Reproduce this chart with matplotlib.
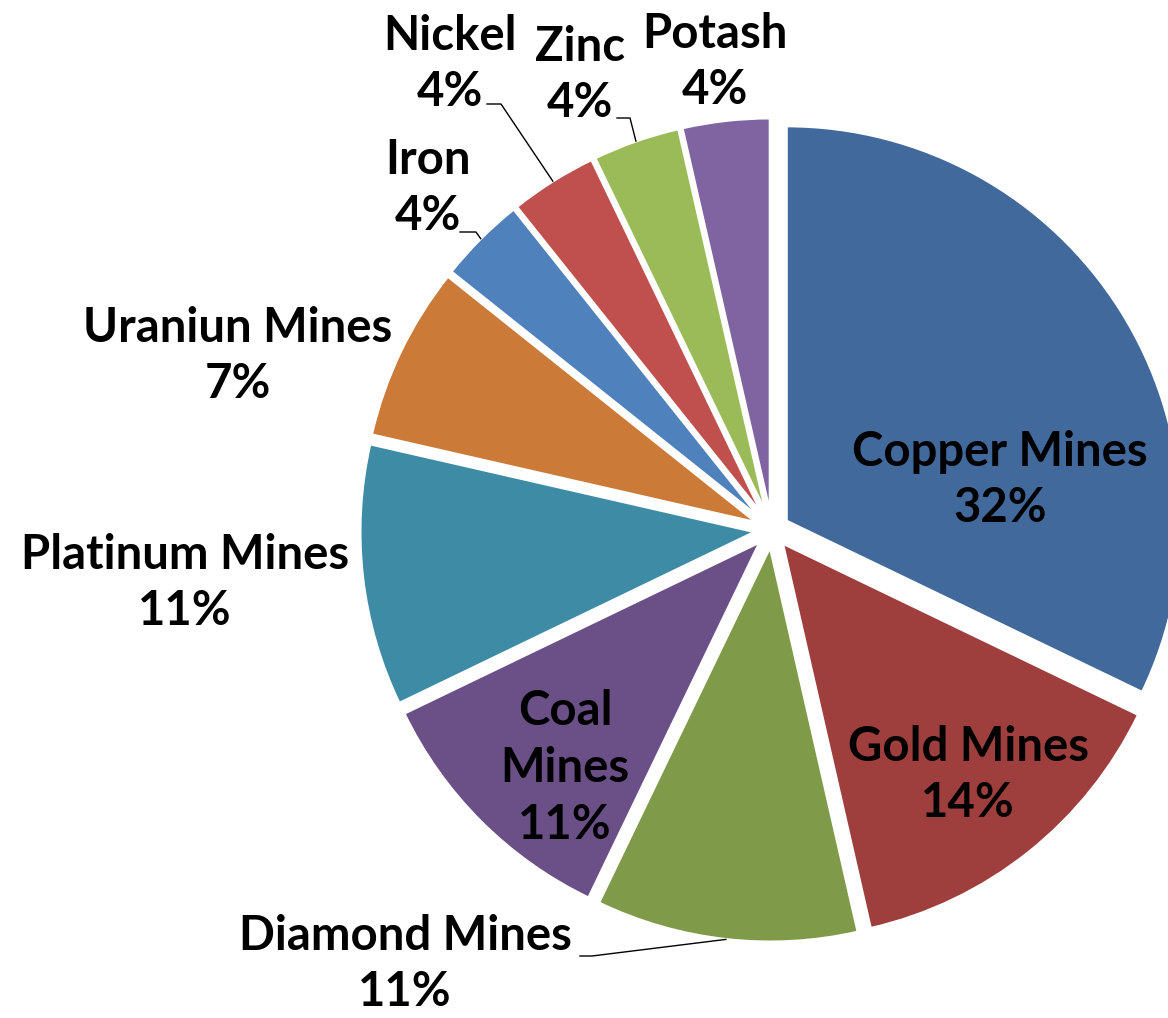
import math
import matplotlib.pyplot as plt

# slices, clockwise from 12 o'clock
labels = ['Copper Mines', 'Gold Mines', 'Diamond Mines', 'Coal Mines', 'Platinum Mines',
          'Uraniun Mines', 'Iron', 'Nickel', 'Zinc', 'Potash']
values = [9, 4, 3, 3, 3, 2, 1, 1, 1, 1]
colors = ['#41699B', '#9E3F3D', '#7F9A48', '#6A5086', '#3D8BA5',
          '#CB7A38', '#4F81BD', '#C0504D', '#9BBB59', '#8064A2']

W, H = 1168, 1018
cx, cy = 772, H - 530
R = 395
EXPL = 17

# label centres (image pixels, y down) and leader elbows
label_pos = {
    'Copper Mines': (1000, 480),
    'Gold Mines': (968, 775),
    'Diamond Mines': (405, 964),
    'Coal Mines': (565, 768),
    'Platinum Mines': (185, 583),
    'Uraniun Mines': (238, 356),
    'Iron': (428, 188),
    'Nickel': (450, 64),
    'Zinc': (580, 75),
    'Potash': (715, 62),
}
leaders = {
    'Iron': [(460, 232), (476, 232)],
    'Nickel': [(487, 104), (501, 104)],
    'Zinc': [(617, 118), (630, 118)],
    'Diamond Mines': [(580, 956), (592, 956)],
}

plt.rcParams['font.family'] = ['Lato', 'DejaVu Sans']

fig = plt.figure(figsize=(W / 100, H / 100), dpi=100)
ax = fig.add_axes([0, 0, 1, 1])
wedges, _ = ax.pie(values, colors=colors, radius=R, center=(cx, cy), startangle=90,
                   counterclock=False, explode=[EXPL] * len(values),
                   wedgeprops=dict(edgecolor='white', linewidth=2))
ax.set_xlim(0, W)
ax.set_ylim(0, H)
ax.axis('off')

total = sum(values)
for name, v, w in zip(labels, values, wedges):
    pct = '%d%%' % round(v / total * 100)
    txt = name.replace(' ', '\n') if name == 'Coal Mines' else name
    x, y = label_pos[name]
    ax.text(x, H - y, txt + '\n' + pct, ha='center', va='center', fontsize=34,
            fontweight='bold', linespacing=1.36, multialignment='center')
    if name in leaders:
        mid = math.radians((w.theta1 + w.theta2) / 2)
        px = w.center[0] + R * math.cos(mid)
        py = w.center[1] + R * math.sin(mid)
        xs = [p[0] for p in leaders[name]] + [px]
        ys = [H - p[1] for p in leaders[name]] + [py]
        ax.plot(xs, ys, color='black', lw=1)

fig.savefig('out.png', dpi=100)
